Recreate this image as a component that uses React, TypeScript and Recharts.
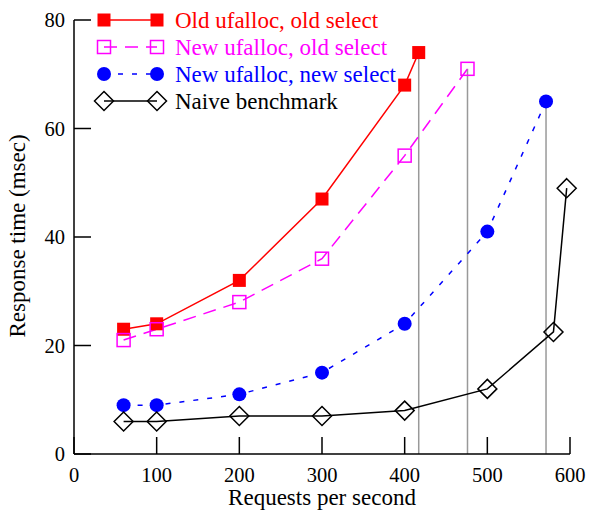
import { LineChart, Line, XAxis, YAxis, ReferenceLine, Legend } from "recharts";

const FONT = "'Liberation Serif', 'Times New Roman', serif";
const tickStyle = { fontFamily: FONT, fontSize: 20.5 };
const labelStyle = { fontFamily: FONT, fontSize: 23 };

// Old ufalloc, old select
const oldOldX = [60, 100, 200, 300, 400, 417];
const oldOldY = [23, 24, 32, 47, 68, 74];
// New ufalloc, old select
const newOldX = [60, 100, 200, 300, 400, 476];
const newOldY = [21, 23, 28, 36, 55, 71];
// New ufalloc, new select
const newNewX = [60, 100, 200, 300, 400, 500, 571];
const newNewY = [9, 9, 11, 15, 24, 41, 65];
// Naive benchmark
const naiveX = [60, 100, 200, 300, 400, 500, 580, 596];
const naiveY = [6, 6, 7, 7, 8, 12, 22.5, 49];

const xTicks = [0, 100, 200, 300, 400, 500, 600];
const yTicks = [0, 20, 40, 60, 80];

const toPoints = (xs: number[], ys: number[]) =>
  xs.map((x, i) => ({ x, y: ys[i] }));

const oldOld = toPoints(oldOldX, oldOldY);
const newOld = toPoints(newOldX, newOldY);
const newNew = toPoints(newNewX, newNewY);
const naive = toPoints(naiveX, naiveY);

// saturation points get a grey drop line down to the axis
const dropLines = [oldOld, newOld, newNew].map((s) => s[s.length - 1]);

type Shape = "fsquare" | "osquare" | "circle" | "diamond";

const Marker = ({ cx, cy, shape, color }: { cx: number; cy: number; shape: Shape; color: string }) => {
  if (cx == null || cy == null) return null;
  if (shape === "fsquare")
    return <rect x={cx - 6.5} y={cy - 6.5} width={13} height={13} fill={color} />;
  if (shape === "osquare")
    return (
      <rect x={cx - 6.5} y={cy - 6.5} width={13} height={13} fill="none" stroke={color} strokeWidth={1.5} />
    );
  if (shape === "circle") return <circle cx={cx} cy={cy} r={7} fill={color} />;
  const h = 9.5;
  return (
    <path
      d={`M${cx},${cy - h}L${cx + h},${cy}L${cx},${cy + h}L${cx - h},${cy}Z`}
      fill="none"
      stroke={color}
      strokeWidth={1.5}
    />
  );
};

const series = [
  { name: "Old ufalloc, old select", data: oldOld, color: "#ff0000", dash: undefined, shape: "fsquare" as Shape },
  { name: "New ufalloc, old select", data: newOld, color: "#ff00ff", dash: "13 8", shape: "osquare" as Shape },
  { name: "New ufalloc, new select", data: newNew, color: "#0000ff", dash: "5 9", shape: "circle" as Shape },
  { name: "Naive benchmark", data: naive, color: "#000000", dash: undefined, shape: "diamond" as Shape },
];

const XTick = (props: any) => {
  const { x, y, payload } = props;
  return (
    <g>
      <line x1={x} y1={y} x2={x} y2={y - 17} stroke="#000" strokeWidth={1.5} />
      <text x={x} y={y + 28} textAnchor="middle" style={tickStyle} fill="#000">
        {payload.value}
      </text>
    </g>
  );
};

const YTick = (props: any) => {
  const { x, y, payload } = props;
  return (
    <g>
      <line x1={x} y1={y} x2={x + 17} y2={y} stroke="#000" strokeWidth={1.5} />
      <text x={x - 9} y={y} dy="0.35em" textAnchor="end" style={tickStyle} fill="#000">
        {payload.value}
      </text>
    </g>
  );
};

const LegendBox = () => (
  <svg width={420} height={120} style={{ display: "block" }}>
    {series.map((s, i) => {
      const y = 20 + i * 27;
      return (
        <g key={s.name}>
          <line x1={104} y1={y} x2={157} y2={y} stroke={s.color} strokeWidth={1.5} strokeDasharray={s.dash} />
          <Marker cx={104} cy={y} shape={s.shape} color={s.color} />
          <Marker cx={157} cy={y} shape={s.shape} color={s.color} />
          <text x={175} y={y + 8} style={labelStyle} fill={s.color}>
            {s.name}
          </text>
        </g>
      );
    })}
  </svg>
);

export default function App() {
  return (
    <div style={{ position: "absolute", left: 0, top: 0, background: "#fff", fontFamily: FONT }}>
      <LineChart width={589} height={510} margin={{ top: 20, right: 19, bottom: 0, left: 14 }}>
        <XAxis
          dataKey="x"
          type="number"
          domain={[0, 600]}
          ticks={xTicks}
          height={56}
          tickSize={0}
          tickMargin={0}
          tick={<XTick />}
          axisLine={{ stroke: "#000", strokeWidth: 1.5 }}
          tickLine={false}
          label={{
            content: () => (
              <text x={322} y={505} textAnchor="middle" style={labelStyle} fill="#000">
                Requests per second
              </text>
            ),
          }}
        />
        <YAxis
          dataKey="y"
          type="number"
          domain={[0, 80]}
          ticks={yTicks}
          width={60}
          tickSize={0}
          tickMargin={0}
          tick={<YTick />}
          axisLine={{ stroke: "#000", strokeWidth: 1.5 }}
          tickLine={false}
          label={{
            content: () => (
              <text
                x={25}
                y={236}
                transform="rotate(-90 25 236)"
                textAnchor="middle"
                style={labelStyle}
                fill="#000"
              >
                Response time (msec)
              </text>
            ),
          }}
        />
        {dropLines.map((p, i) => (
          <ReferenceLine
            key={i}
            segment={[
              { x: p.x, y: 0 },
              { x: p.x, y: p.y },
            ]}
            stroke="#999"
            strokeWidth={1.5}
          />
        ))}
        {series.map((s) => (
          <Line
            key={s.name}
            name={s.name}
            data={s.data}
            dataKey="y"
            type="linear"
            stroke={s.color}
            strokeWidth={1.5}
            strokeDasharray={s.dash}
            dot={(p: any) => <Marker key={p.index} cx={p.cx} cy={p.cy} shape={s.shape} color={s.color} />}
            activeDot={false}
            isAnimationActive={false}
          />
        ))}
        <Legend
          layout="horizontal"
          verticalAlign="middle"
          align="center"
          content={<LegendBox />}
          wrapperStyle={{ top: 0, left: 0, width: 420, height: 120 }}
        />
      </LineChart>
    </div>
  );
}
